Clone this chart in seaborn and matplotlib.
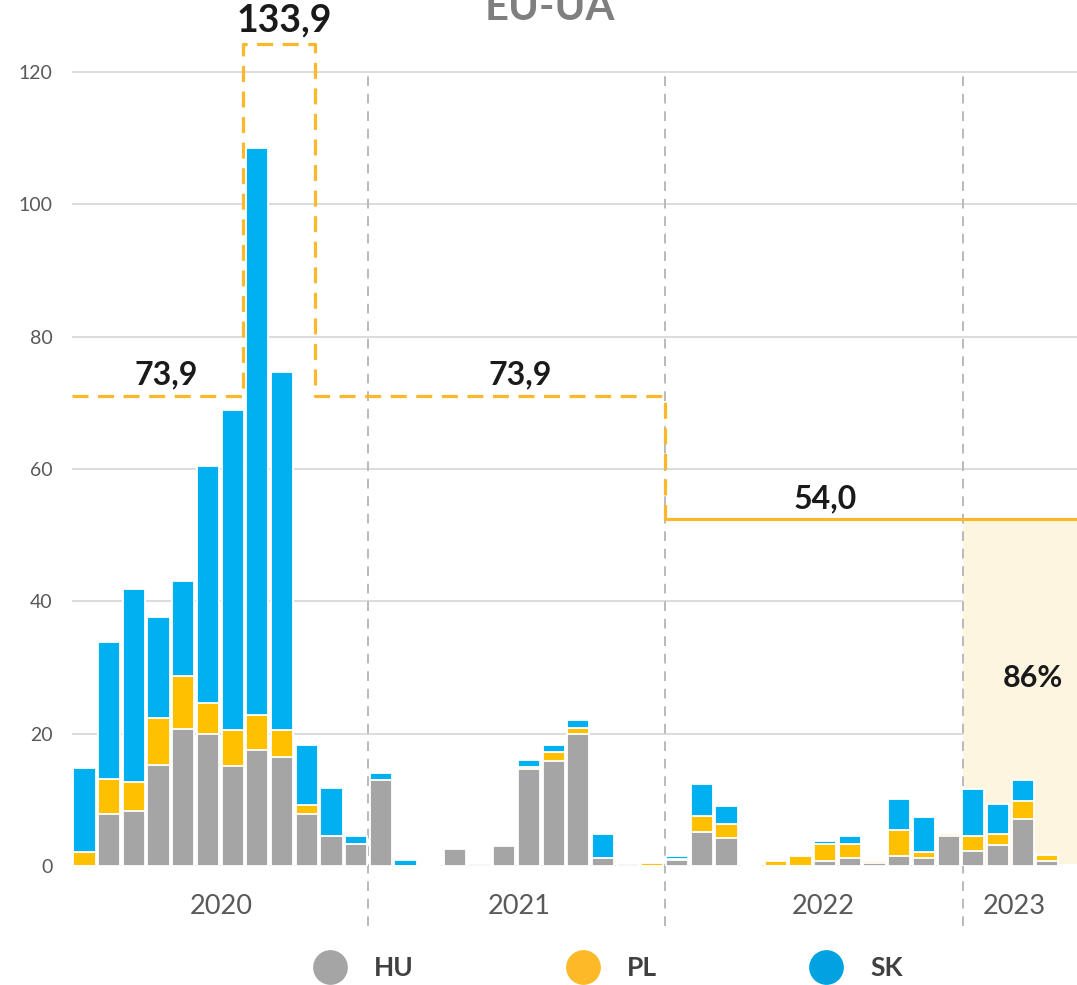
import numpy as np
import pandas as pd
import seaborn as sns
import matplotlib.pyplot as plt
from matplotlib.lines import Line2D

sns.set_style("white")
plt.rcParams['font.family'] = ['Lato', 'DejaVu Sans']

# monthly data Jan 2020 - May 2023
months = pd.period_range("2020-01", "2023-05", freq="M").strftime("%Y-%m").tolist()

hu = [0, 7.8, 8.3, 15.3, 20.7, 20.0, 15.1, 17.6, 16.5, 7.8, 4.6, 3.3,
      13.0, 0, 0.1, 2.5, 0.3, 3.0, 14.6, 15.9, 20.0, 1.2, 0.35, 0,
      0.9, 5.2, 4.3, 0, 0, 0, 0.7, 1.2, 0.4, 1.5, 1.15, 4.6,
      2.2, 3.1, 7.05, 0.7, 0.2]
pl = [2.1, 5.35, 4.4, 7.0, 8.0, 4.6, 5.5, 5.2, 4.0, 1.4, 0, 0,
      0, 0, 0, 0, 0, 0, 0.3, 1.3, 0.9, 0, 0, 0.4,
      0.1, 2.4, 2.1, 0, 0.7, 1.5, 2.6, 2.2, 0.35, 3.9, 0.9, 0.3,
      2.4, 1.8, 2.7, 1.0, 0]
sk = [12.7, 20.65, 29.2, 15.4, 14.4, 35.9, 48.3, 85.7, 54.1, 9.1, 7.2, 1.2,
      1.1, 0.9, 0, 0, 0, 0, 1.1, 1.15, 1.2, 3.7, 0, 0,
      0.5, 4.85, 2.6, 0, 0, 0, 0.55, 1.1, 0, 4.7, 5.4, 0,
      7.0, 4.5, 3.3, 0, 0]

years = ["2020", "2021", "2022", "2023"]
year_pos = [5.53, 17.59, 29.92, 37.67]
dividers = [11.5, 23.5, 35.6]

# reference level step line (bar-index breakpoints)
ref_x = [-0.5, 6.42, 6.42, 9.34, 9.34, 23.5, 23.5]
ref_y = [71, 71, 124.2, 124.2, 71, 71, 52.4]
ref_solid_x = [23.5, 40.5]
ref_solid_y = [52.4, 52.4]
ref_labels = ["73,9", "133,9", "73,9", "54,0"]
ref_label_pos = [(3.3, 74.2), (8.08, 127.8), (17.65, 74.2), (30.0, 55.5)]
share_label = "86%"
share_pos = (38.4, 28.4)

C_HU, C_PL, C_SK = "#A5A5A5", "#FFC000", "#00B0F0"
C_REF = "#FBB829"

df = pd.DataFrame({"month": months, "HU": hu, "PL": pl, "SK": sk})
df["HU_PL"] = df["HU"] + df["PL"]
df["total"] = df["HU_PL"] + df["SK"]

fig = plt.figure(figsize=(10.77, 9.85), dpi=100)
ax = fig.add_axes([72.2 / 1077, 119 / 985, 1 - 72.2 / 1077, 866 / 985])

bar_kw = dict(width=0.9, edgecolor="white", linewidth=1.3, saturation=1, ax=ax)
sns.barplot(data=df, x="month", y="total", color=C_SK, **bar_kw)
sns.barplot(data=df, x="month", y="HU_PL", color=C_PL, **bar_kw)
sns.barplot(data=df, x="month", y="HU", color=C_HU, **bar_kw)

# 2023 shaded area
ax.fill_between([35.6, 40.5], 0, 52.4, color="#FEF5E1", zorder=0.8, lw=0)

ax.plot(ref_x, ref_y, color=C_REF, lw=2.3, ls=(0, (5, 3)), clip_on=False, zorder=3)
ax.plot(ref_solid_x, ref_solid_y, color=C_REF, lw=2.3, zorder=3)

for d in dividers:
    ax.plot([d, d], [-9, 120], color="#BABABA", lw=1.4, ls=(0, (5, 4)),
            clip_on=False, zorder=0.9)

for txt, (x, y) in zip(ref_labels, ref_label_pos):
    size = 27 if txt == "133,9" else 23
    ax.text(x, y, txt, ha="center", va="center", fontsize=size,
            fontweight="bold", color="#1A1A1A", clip_on=False)
ax.text(*share_pos, share_label, ha="center", va="center", fontsize=22,
        fontweight="bold", color="#1A1A1A")

fig.text(550 / 1077, 1 - 20 / 985, "EU-UA", ha="center", va="baseline",
         fontsize=30, fontweight="bold", color="#7F7F7F")

ax.set_xlim(-0.5, 40.2)
ax.set_ylim(0, 130.9)
ax.set_yticks(range(0, 121, 20))
ax.set_xticks(year_pos)
ax.set_xticklabels(years)
ax.set_xlabel("")
ax.set_ylabel("")
ax.tick_params(axis="y", length=0, pad=14, labelsize=14, labelcolor="#595959")
ax.tick_params(axis="x", length=0, pad=20, labelsize=19.5, labelcolor="#595959")
ax.yaxis.grid(True, color="#D9D9D9", lw=1.3)
ax.set_axisbelow(True)
for s in ax.spines.values():
    s.set_visible(False)

handles = [Line2D([], [], marker="o", ls="", ms=24, color=c)
           for c in ["#A5A5A5", "#FDB927", "#00A3E0"]]
fig.legend(handles, ["HU", "PL", "SK"], loc="center", bbox_to_anchor=(0.56, 0.0173),
           ncol=3, frameon=False, columnspacing=5.4, handletextpad=0.67,
           prop={"size": 19, "weight": "bold"}, labelcolor="#404040")

fig.savefig("out.png", dpi=100)
